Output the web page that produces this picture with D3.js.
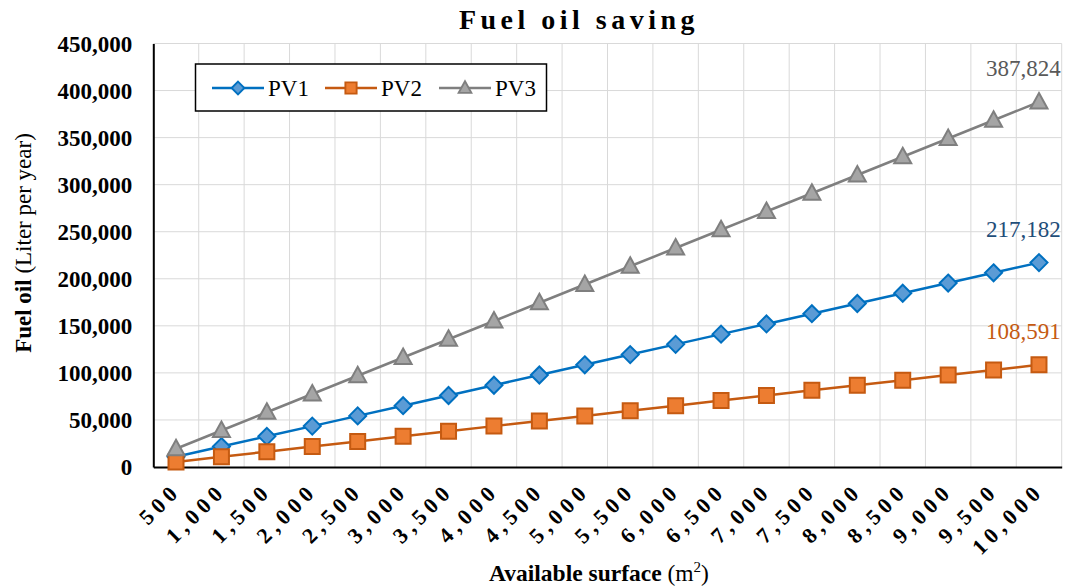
<!DOCTYPE html>
<html><head><meta charset="utf-8">
<script src="https://cdn.jsdelivr.net/npm/d3@7"></script>
<style>body{margin:0;background:#fff}svg{display:block}text{font-family:"Liberation Serif","Times New Roman",serif}</style>
</head><body><svg id="c" width="1068" height="588"></svg>
<script>
const categories = ["500","1,000","1,500","2,000","2,500","3,000","3,500","4,000","4,500","5,000","5,500","6,000","6,500","7,000","7,500","8,000","8,500","9,000","9,500","10,000"];
const pv1 = [10859,21718,32577,43436,54296,65155,76014,86873,97732,108591,119450,130309,141168,152027,162887,173746,184605,195464,206323,217182];
const pv2 = [5430,10859,16289,21718,27148,32577,38007,43436,48866,54296,59725,65155,70584,76014,81443,86873,92302,97732,103161,108591];
const pv3 = [19391,38782,58174,77565,96956,116347,135738,155130,174521,193912,213303,232694,252086,271477,290868,310259,329650,349042,368433,387824];
const yTicks = [0,50000,100000,150000,200000,250000,300000,350000,400000,450000];
const seriesNames = ["PV1","PV2","PV3"];

const svg = d3.select("#c");
const L=153.3, R=1061.7, T=43.5, B=467;
const x = d3.scaleBand().domain(categories).range([L,R]);
const y = d3.scaleLinear().domain([0,450000]).range([B,T]);
const fmt = d3.format(",");

// gridlines
const g = svg.append("g");
g.selectAll(".hg").data(yTicks.slice(1)).join("line")
  .attr("x1",L).attr("x2",R).attr("y1",d=>y(d)).attr("y2",d=>y(d))
  .attr("stroke","#d9d9d9").attr("stroke-width",1);
g.selectAll(".vg").data(categories).join("line")
  .attr("x1",d=>x(d)+x.bandwidth()).attr("x2",d=>x(d)+x.bandwidth())
  .attr("y1",T).attr("y2",B).attr("stroke","#d9d9d9").attr("stroke-width",1);

// axes
const yAxis = d3.axisLeft(y).tickValues(yTicks).tickFormat(fmt).tickSize(0).tickPadding(21);
const ya = svg.append("g").attr("transform",`translate(${L},0)`).call(yAxis);
ya.select(".domain").attr("stroke","#000").attr("stroke-width",2);
ya.selectAll("text").attr("font-size",23).attr("font-weight","bold").attr("fill","#000")
  .attr("font-family","Liberation Serif, serif").attr("dy","0.34em");

const xAxis = d3.axisBottom(x).tickSize(0).tickPadding(0);
const xa = svg.append("g").attr("transform",`translate(0,${B})`).call(xAxis);
xa.select(".domain").attr("stroke","#000").attr("stroke-width",2);
xa.selectAll("text").attr("font-size",22).attr("font-weight","bold").attr("fill","#000")
  .attr("font-family","Liberation Serif, serif").attr("letter-spacing","5px")
  .attr("text-anchor","end").attr("dy",0).attr("y",0)
  .attr("transform","translate(6,25) rotate(-45)");

// series
const diamond = {draw(ctx,size){const r=8.5;ctx.moveTo(0,-r);ctx.lineTo(r,0);ctx.lineTo(0,r);ctx.lineTo(-r,0);ctx.closePath();}};
const square = {draw(ctx,size){const r=7.5;ctx.moveTo(-r,-r);ctx.lineTo(r,-r);ctx.lineTo(r,r);ctx.lineTo(-r,r);ctx.closePath();}};
const tri = {draw(ctx,size){ctx.moveTo(0,-9);ctx.lineTo(8.5,6.5);ctx.lineTo(-8.5,6.5);ctx.closePath();}};
const series = [
  {name:"PV1", data:pv1, line:"#0070C0", fill:"#5B9BD5", stroke:"#0070C0", sym:diamond, label:"#1F4E79"},
  {name:"PV2", data:pv2, line:"#C55A11", fill:"#ED7D31", stroke:"#C55A11", sym:square, label:"#C55A11"},
  {name:"PV3", data:pv3, line:"#7F7F7F", fill:"#A5A5A5", stroke:"#7F7F7F", sym:tri, label:"#595959"}
];
const cx = c => x(c)+x.bandwidth()/2;
const line = d3.line().x((d,i)=>cx(categories[i])).y(d=>y(d));
series.forEach(s=>{
  svg.append("path").attr("d",line(s.data)).attr("fill","none").attr("stroke",s.line).attr("stroke-width",2.5);
});
series.forEach(s=>{
  svg.append("g").selectAll("path").data(s.data).join("path")
    .attr("d",d3.symbol().type(s.sym))
    .attr("transform",(d,i)=>`translate(${cx(categories[i])},${y(d)})`)
    .attr("fill",s.fill).attr("stroke",s.stroke).attr("stroke-width",2);
  const last = s.data[s.data.length-1];
  svg.append("text").attr("x",R-1).attr("y",y(last)-26)
    .attr("text-anchor","end").attr("font-size",23).attr("fill",s.label).text(fmt(last));
});

// legend
const lg = svg.append("g");
lg.append("rect").attr("x",195.5).attr("y",64).attr("width",351).attr("height",47)
  .attr("fill","#fff").attr("stroke","#000").attr("stroke-width",1.5);
const lx = [212,325,439];
series.forEach((s,i)=>{
  const gy = 88;
  lg.append("line").attr("x1",lx[i]).attr("x2",lx[i]+52).attr("y1",gy).attr("y2",gy).attr("stroke",s.line).attr("stroke-width",2.5);
  lg.append("path").attr("d",d3.symbol().type(s.sym)()).attr("transform",`translate(${lx[i]+26},${gy}) scale(0.75)`)
    .attr("fill",s.fill).attr("stroke",s.stroke).attr("stroke-width",2.5);
  lg.append("text").attr("x",lx[i]+56).attr("y",gy+8).attr("font-size",23).attr("fill","#000").text(s.name);
});

// title
svg.append("text").attr("x",579).attr("y",29).attr("text-anchor","middle")
  .attr("font-size",28).attr("font-weight","bold").attr("letter-spacing","4.5px").text("Fuel oil saving");

// y label
const yl = svg.append("text").attr("transform","translate(31,243) rotate(-90)").attr("text-anchor","middle").attr("font-size",23);
yl.append("tspan").attr("font-weight","bold").text("Fuel oil ");
yl.append("tspan").text("(Liter per year)");

// x label
const xl = svg.append("text").attr("x",599).attr("y",581).attr("text-anchor","middle").attr("font-size",23.5);
xl.append("tspan").attr("font-weight","bold").text("Available surface ");
xl.append("tspan").text("(m");
xl.append("tspan").attr("font-size",15).attr("dy",-9).text("2");
xl.append("tspan").attr("dy",9).text(")");
</script></body></html>
